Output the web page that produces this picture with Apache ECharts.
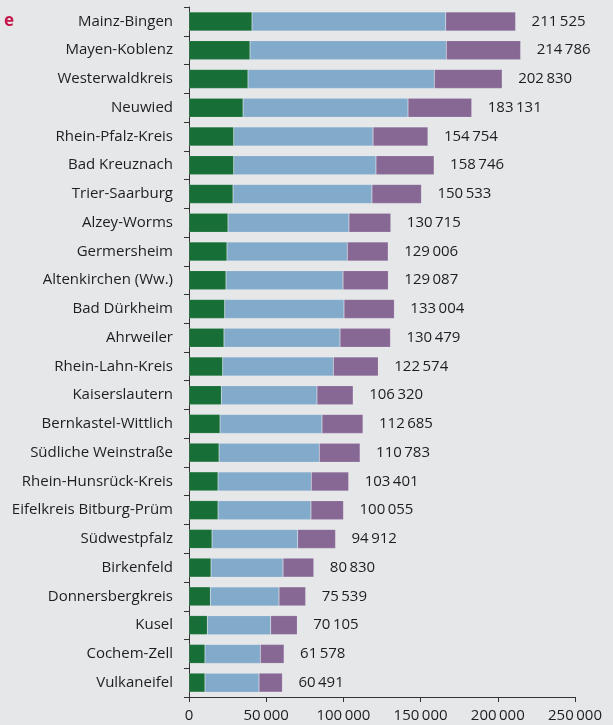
<!DOCTYPE html>
<html>
<head>
<meta charset="utf-8">
<script src="https://cdn.jsdelivr.net/npm/echarts@6/dist/echarts.min.js"></script>
<style>
  html, body { margin: 0; padding: 0; background: #e6e7e9; }
  #chart { width: 613px; height: 725px; }
</style>
</head>
<body>
<div id="chart"></div>
<script>
const districts = [
  'Mainz-Bingen', 'Mayen-Koblenz', 'Westerwaldkreis', 'Neuwied', 'Rhein-Pfalz-Kreis',
  'Bad Kreuznach', 'Trier-Saarburg', 'Alzey-Worms', 'Germersheim', 'Altenkirchen (Ww.)',
  'Bad Dürkheim', 'Ahrweiler', 'Rhein-Lahn-Kreis', 'Kaiserslautern', 'Bernkastel-Wittlich',
  'Südliche Weinstraße', 'Rhein-Hunsrück-Kreis', 'Eifelkreis Bitburg-Prüm', 'Südwestpfalz',
  'Birkenfeld', 'Donnersbergkreis', 'Kusel', 'Cochem-Zell', 'Vulkaneifel'
];
const greenPart = [
  40800, 39500, 38200, 35000, 28950, 28950, 28500, 25250, 24600, 23950,
  23100, 22650, 21800, 20950, 20100, 19450, 18800, 18800, 14900, 14250,
  13800, 11850, 10350, 10350
];
const bluePart = [
  125450, 127150, 120700, 106850, 90250, 92150, 90000, 78350, 77950, 75800,
  77300, 75150, 71700, 61950, 66050, 64950, 60400, 60200, 55500, 46650,
  44500, 41050, 35850, 35000
];
const purplePart = [
  45275, 48136, 43930, 41281, 35554, 37646, 32033, 27115, 26456, 29337,
  32604, 32679, 29074, 23420, 26535, 26383, 24201, 21055, 24512, 19930,
  17239, 17205, 15378, 15141
];
const totals = [
  211525, 214786, 202830, 183131, 154754, 158746, 150533, 130715, 129006, 129087,
  133004, 130479, 122574, 106320, 112685, 110783, 103401, 100055, 94912, 80830,
  75539, 70105, 61578, 60491
];
const xTicks = [0, 50000, 100000, 150000, 200000, 250000];

const fmt = v => String(v).replace(/\B(?=(\d{3})+(?!\d))/g, '\u2009');
const font = 'Open Sans';

const chart = echarts.init(document.getElementById('chart'));

const seg = (name, data, color, withTotal) => ({
  name,
  type: 'bar',
  stack: 'all',
  barWidth: 19,
  data,
  itemStyle: { color, borderColor: 'rgba(255,255,255,0.25)', borderWidth: 0.5 },
  label: withTotal ? {
    show: true,
    position: 'right',
    distance: 16,
    color: '#1e1e1e',
    fontFamily: font,
    fontSize: 15,
    formatter: p => fmt(totals[p.dataIndex])
  } : { show: false }
});

chart.setOption({
  backgroundColor: '#e6e7e9',
  animation: false,
  title: {
    text: 'e',
    left: -1,
    top: 8,
    textStyle: { color: '#c4184b', fontSize: 17, fontWeight: 'bold', fontFamily: font }
  },
  grid: { left: 189, right: 38, top: 7, bottom: 28, containLabel: false },
  xAxis: {
    type: 'value',
    min: xTicks[0],
    max: xTicks[xTicks.length - 1],
    interval: 50000,
    axisLine: { show: true, lineStyle: { color: '#333', width: 1 } },
    axisTick: { show: true, length: 5, lineStyle: { color: '#333' } },
    splitLine: { show: false },
    axisLabel: { color: '#1e1e1e', fontFamily: font, fontSize: 15, margin: 11, formatter: v => fmt(v) }
  },
  yAxis: {
    type: 'category',
    inverse: true,
    data: districts,
    axisLine: { show: true, lineStyle: { color: '#333', width: 1 } },
    axisTick: { show: true, length: 5, lineStyle: { color: '#333' } },
    axisLabel: { color: '#1e1e1e', fontFamily: font, fontSize: 15, margin: 16 }
  },
  series: [
    seg('grün', greenPart, '#176e36', false),
    seg('blau', bluePart, '#82aacb', false),
    seg('lila', purplePart, '#876895', true)
  ]
});
</script>
</body>
</html>
